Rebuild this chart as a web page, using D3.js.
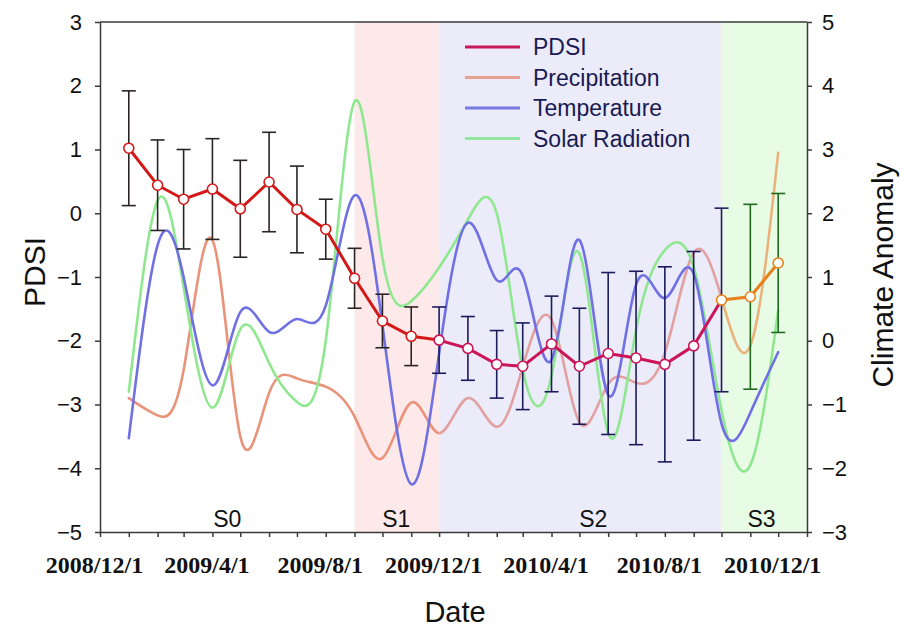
<!DOCTYPE html>
<html>
<head>
<meta charset="utf-8">
<script src="https://cdn.jsdelivr.net/npm/d3@7"></script>
<style>
  body { margin: 0; background: #fff; }
  svg { display: block; }
</style>
</head>
<body>
<script>
const width = 900;
const height = 628;
const margin = {top: 22, left: 100, bottom: 96, right: 93};

// monthly observations
const months = [
  '2009-01-01', '2009-02-01', '2009-03-01', '2009-04-01', '2009-05-01', '2009-06-01',
  '2009-07-01', '2009-08-01', '2009-09-01', '2009-10-01', '2009-11-01', '2009-12-01',
  '2010-01-01', '2010-02-01', '2010-03-01', '2010-04-01', '2010-05-01', '2010-06-01',
  '2010-07-01', '2010-08-01', '2010-09-01', '2010-10-01', '2010-11-01', '2010-12-01'
];
const pdsi = [1.02, 0.44, 0.22, 0.38, 0.07, 0.49, 0.06, -0.25, -1.02, -1.69, -1.93, -1.99,
  -2.12, -2.37, -2.40, -2.05, -2.40, -2.20, -2.27, -2.37, -2.08, -1.36, -1.31, -0.78];
const pdsiSd = [0.90, 0.71, 0.78, 0.79, 0.76, 0.78, 0.68, 0.47, 0.47, 0.42, 0.46, 0.52,
  0.50, 0.53, 0.68, 0.75, 0.91, 1.27, 1.36, 1.53, 1.48, 1.44, 1.45, 1.09];
const precipitation = [-0.90, -1.17, -0.46, 1.58, -1.50, -0.82, -0.59, -0.72, -1.19, -1.84, -0.97, -1.45,
  -0.90, -1.35, -0.41, 0.33, -1.28, -0.68, -0.66, -0.19, 1.38, 0.67, -0.08, 2.95];
const temperature = [-1.53, 1.50, 1.00, -0.70, 0.45, 0.14, 0.34, 0.55, 2.28, 0.25, -2.25, -0.20,
  1.85, 0.95, 1.02, -0.30, 1.58, -0.85, 0.88, 0.67, 1.05, -1.30, -1.13, -0.18];
const solar = [-0.80, 2.20, 0.84, -1.05, 0.18, -0.35, -0.96, 0.00, 3.75, 1.30, 0.62, 1.15,
  1.90, 2.00, -0.45, -0.55, 1.37, -1.45, 0.17, 1.42, 1.16, -1.09, -1.95, 0.48];

// stages
const stages = ['S0', 'S1', 'S2', 'S3'];
const stageBounds = ['2008-12-01', '2009-09-01', '2009-12-01', '2010-10-01', '2011-01-01'];
const stageLabelAt = ['2009-04-17', '2009-10-16', '2010-05-16', '2010-11-13'];
const stageFill = ['#ffffff', '#fde9e9', '#ebebfa', '#e8fbe5'];

const legendNames = ['PDSI', 'Precipitation', 'Temperature', 'Solar Radiation'];
const legendColors = ['#c8185a', '#e8a08e', '#7878e2', '#92e8a0'];

const parse = d3.utcParse('%Y-%m-%d');
const dates = months.map(parse);
const bounds = stageBounds.map(parse);

const x = d3.scaleUtc()
  .domain([bounds[0], bounds[bounds.length - 1]])
  .range([margin.left, width - margin.right]);
const yL = d3.scaleLinear().domain([-5, 3]).range([height - margin.bottom, margin.top]);
const yR = d3.scaleLinear().domain([-3, 5]).range([height - margin.bottom, margin.top]);

const svg = d3.select('body').append('svg').attr('width', width).attr('height', height);
const defs = svg.append('defs');

// stage backgrounds
svg.append('g').selectAll('rect').data(stages).enter().append('rect')
  .attr('x', (d, i) => x(bounds[i]))
  .attr('y', margin.top)
  .attr('width', (d, i) => x(bounds[i + 1]) - x(bounds[i]))
  .attr('height', yL(-5) - yL(3))
  .attr('fill', (d, i) => stageFill[i]);

// clip regions
const clip = (id, x0, x1) => defs.append('clipPath').attr('id', id).append('rect')
  .attr('x', x0).attr('y', 0).attr('width', x1 - x0).attr('height', height);
clip('c-early', 0, x(bounds[2]));
clip('c-mid', x(bounds[2]), x(bounds[3]));
clip('c-late', x(bounds[3]), width);

const smooth = arr => d3.line()
  .x((d, i) => x(dates[i]))
  .y(d => yR(d))
  .curve(d3.curveNatural)(arr);

const lines = svg.append('g').attr('fill', 'none').attr('stroke-width', 2.6).attr('stroke-linecap', 'round');
lines.append('path').attr('d', smooth(precipitation)).attr('stroke', '#e8937a').attr('clip-path', 'url(#c-early)');
lines.append('path').attr('d', smooth(precipitation)).attr('stroke', '#e2a0a0').attr('clip-path', 'url(#c-mid)');
lines.append('path').attr('d', smooth(precipitation)).attr('stroke', '#eab27c').attr('clip-path', 'url(#c-late)');
lines.append('path').attr('d', smooth(solar)).attr('stroke', '#8fe890');
lines.append('path').attr('d', smooth(temperature)).attr('stroke', '#7070e4');

// error bars
const barColor = d => d < bounds[2] ? '#2a2424' : d <= bounds[3] ? '#1c1c5c' : '#1f6a1f';
const bars = svg.append('g').attr('stroke-width', 1.6);
dates.forEach((d, i) => {
  const g = bars.append('g').attr('stroke', barColor(d));
  const cx = x(d), t = yL(pdsi[i] + pdsiSd[i]), b = yL(pdsi[i] - pdsiSd[i]);
  g.append('line').attr('x1', cx).attr('x2', cx).attr('y1', t).attr('y2', b);
  g.append('line').attr('x1', cx - 7).attr('x2', cx + 7).attr('y1', t).attr('y2', t);
  g.append('line').attr('x1', cx - 7).attr('x2', cx + 7).attr('y1', b).attr('y2', b);
});

// PDSI line
const pdsiLine = d3.line().x((d, i) => x(dates[i])).y(d => yL(d));
const pl = svg.append('g').attr('fill', 'none').attr('stroke-width', 3);
pl.append('path').attr('d', pdsiLine(pdsi)).attr('stroke', '#d41818').attr('clip-path', 'url(#c-early)');
pl.append('path').attr('d', pdsiLine(pdsi)).attr('stroke', '#cc1558').attr('clip-path', 'url(#c-mid)');
pl.append('path').attr('d', pdsiLine(pdsi)).attr('stroke', '#e8801c').attr('clip-path', 'url(#c-late)');

const markColor = d => d < bounds[2] ? '#d41818' : d < bounds[3] ? '#cc1558' : '#e8801c';
svg.append('g').selectAll('circle').data(pdsi).enter().append('circle')
  .attr('cx', (d, i) => x(dates[i]))
  .attr('cy', d => yL(d))
  .attr('r', 5)
  .attr('fill', '#fff')
  .attr('stroke-width', 1.6)
  .attr('stroke', (d, i) => markColor(dates[i]));

// stage labels
svg.append('g').selectAll('text').data(stages).enter().append('text')
  .attr('x', (d, i) => x(parse(stageLabelAt[i])))
  .attr('y', 527)
  .attr('text-anchor', 'middle')
  .attr('font-family', 'Arial, "Liberation Sans", sans-serif')
  .attr('font-size', 23)
  .attr('fill', '#111')
  .text(d => d);

// legend
const legend = svg.append('g');
legendNames.forEach((name, i) => {
  const ly = 47 + i * 30.5;
  legend.append('line').attr('x1', 465).attr('x2', 520).attr('y1', ly).attr('y2', ly)
    .attr('stroke', legendColors[i]).attr('stroke-width', 3);
  legend.append('text').attr('x', 533).attr('y', ly).attr('dy', '0.35em')
    .attr('font-family', 'Arial, "Liberation Sans", sans-serif')
    .attr('font-size', 23).attr('fill', '#1a1a52').text(name);
});

// axes
const axisStyle = g => g
  .call(g => g.selectAll('path, line').attr('stroke', '#3a3a3a').attr('stroke-width', 1.5))
  .call(g => g.selectAll('text').attr('fill', '#111'));

const xAxis = g => g
  .attr('transform', `translate(0, ${height - margin.bottom})`)
  .call(d3.axisBottom(x)
    .ticks(d3.utcMonth.every(1))
    .tickSize(5)
    .tickSizeOuter(0)
    .tickPadding(19)
    .tickFormat(d => (d.getUTCMonth() + 1) % 4 === 0 ? `${d.getUTCFullYear()}/${d.getUTCMonth() + 1}/1` : ''))
  .call(g => g.selectAll('text')
    .attr('dx', -6)
    .attr('font-family', '"Liberation Serif", "Times New Roman", serif')
    .attr('font-weight', 'bold')
    .attr('font-size', 24))
  .call(axisStyle);

const yAxisL = g => g
  .attr('transform', `translate(${margin.left}, 0)`)
  .call(d3.axisLeft(yL).ticks(8).tickSize(5).tickSizeOuter(0).tickPadding(13))
  .call(g => g.selectAll('text').attr('font-family', 'Arial, "Liberation Sans", sans-serif').attr('font-size', 22))
  .call(axisStyle);

const yAxisR = g => g
  .attr('transform', `translate(${width - margin.right}, 0)`)
  .call(d3.axisRight(yR).ticks(8).tickSize(5).tickSizeOuter(0).tickPadding(10))
  .call(g => g.selectAll('text').attr('font-family', 'Arial, "Liberation Sans", sans-serif').attr('font-size', 22))
  .call(axisStyle);

svg.append('g').call(xAxis);
svg.append('g').call(yAxisL);
svg.append('g').call(yAxisR);
svg.append('line')
  .attr('x1', margin.left).attr('x2', width - margin.right)
  .attr('y1', margin.top).attr('y2', margin.top)
  .attr('stroke', '#3a3a3a').attr('stroke-width', 1.5);

// axis titles
const title = (txt, tx, ty, rot) => svg.append('text')
  .attr('transform', `translate(${tx}, ${ty}) rotate(${rot})`)
  .attr('text-anchor', 'middle')
  .attr('font-family', 'Arial, "Liberation Sans", sans-serif')
  .attr('font-size', 30)
  .attr('fill', '#111')
  .text(txt);
title('PDSI', 45, 272, -90);
title('Climate Anomaly', 893, 275, -90);
title('Date', 455, 622, 0).attr('font-size', 29);

svg.node();
</script>
</body>
</html>
